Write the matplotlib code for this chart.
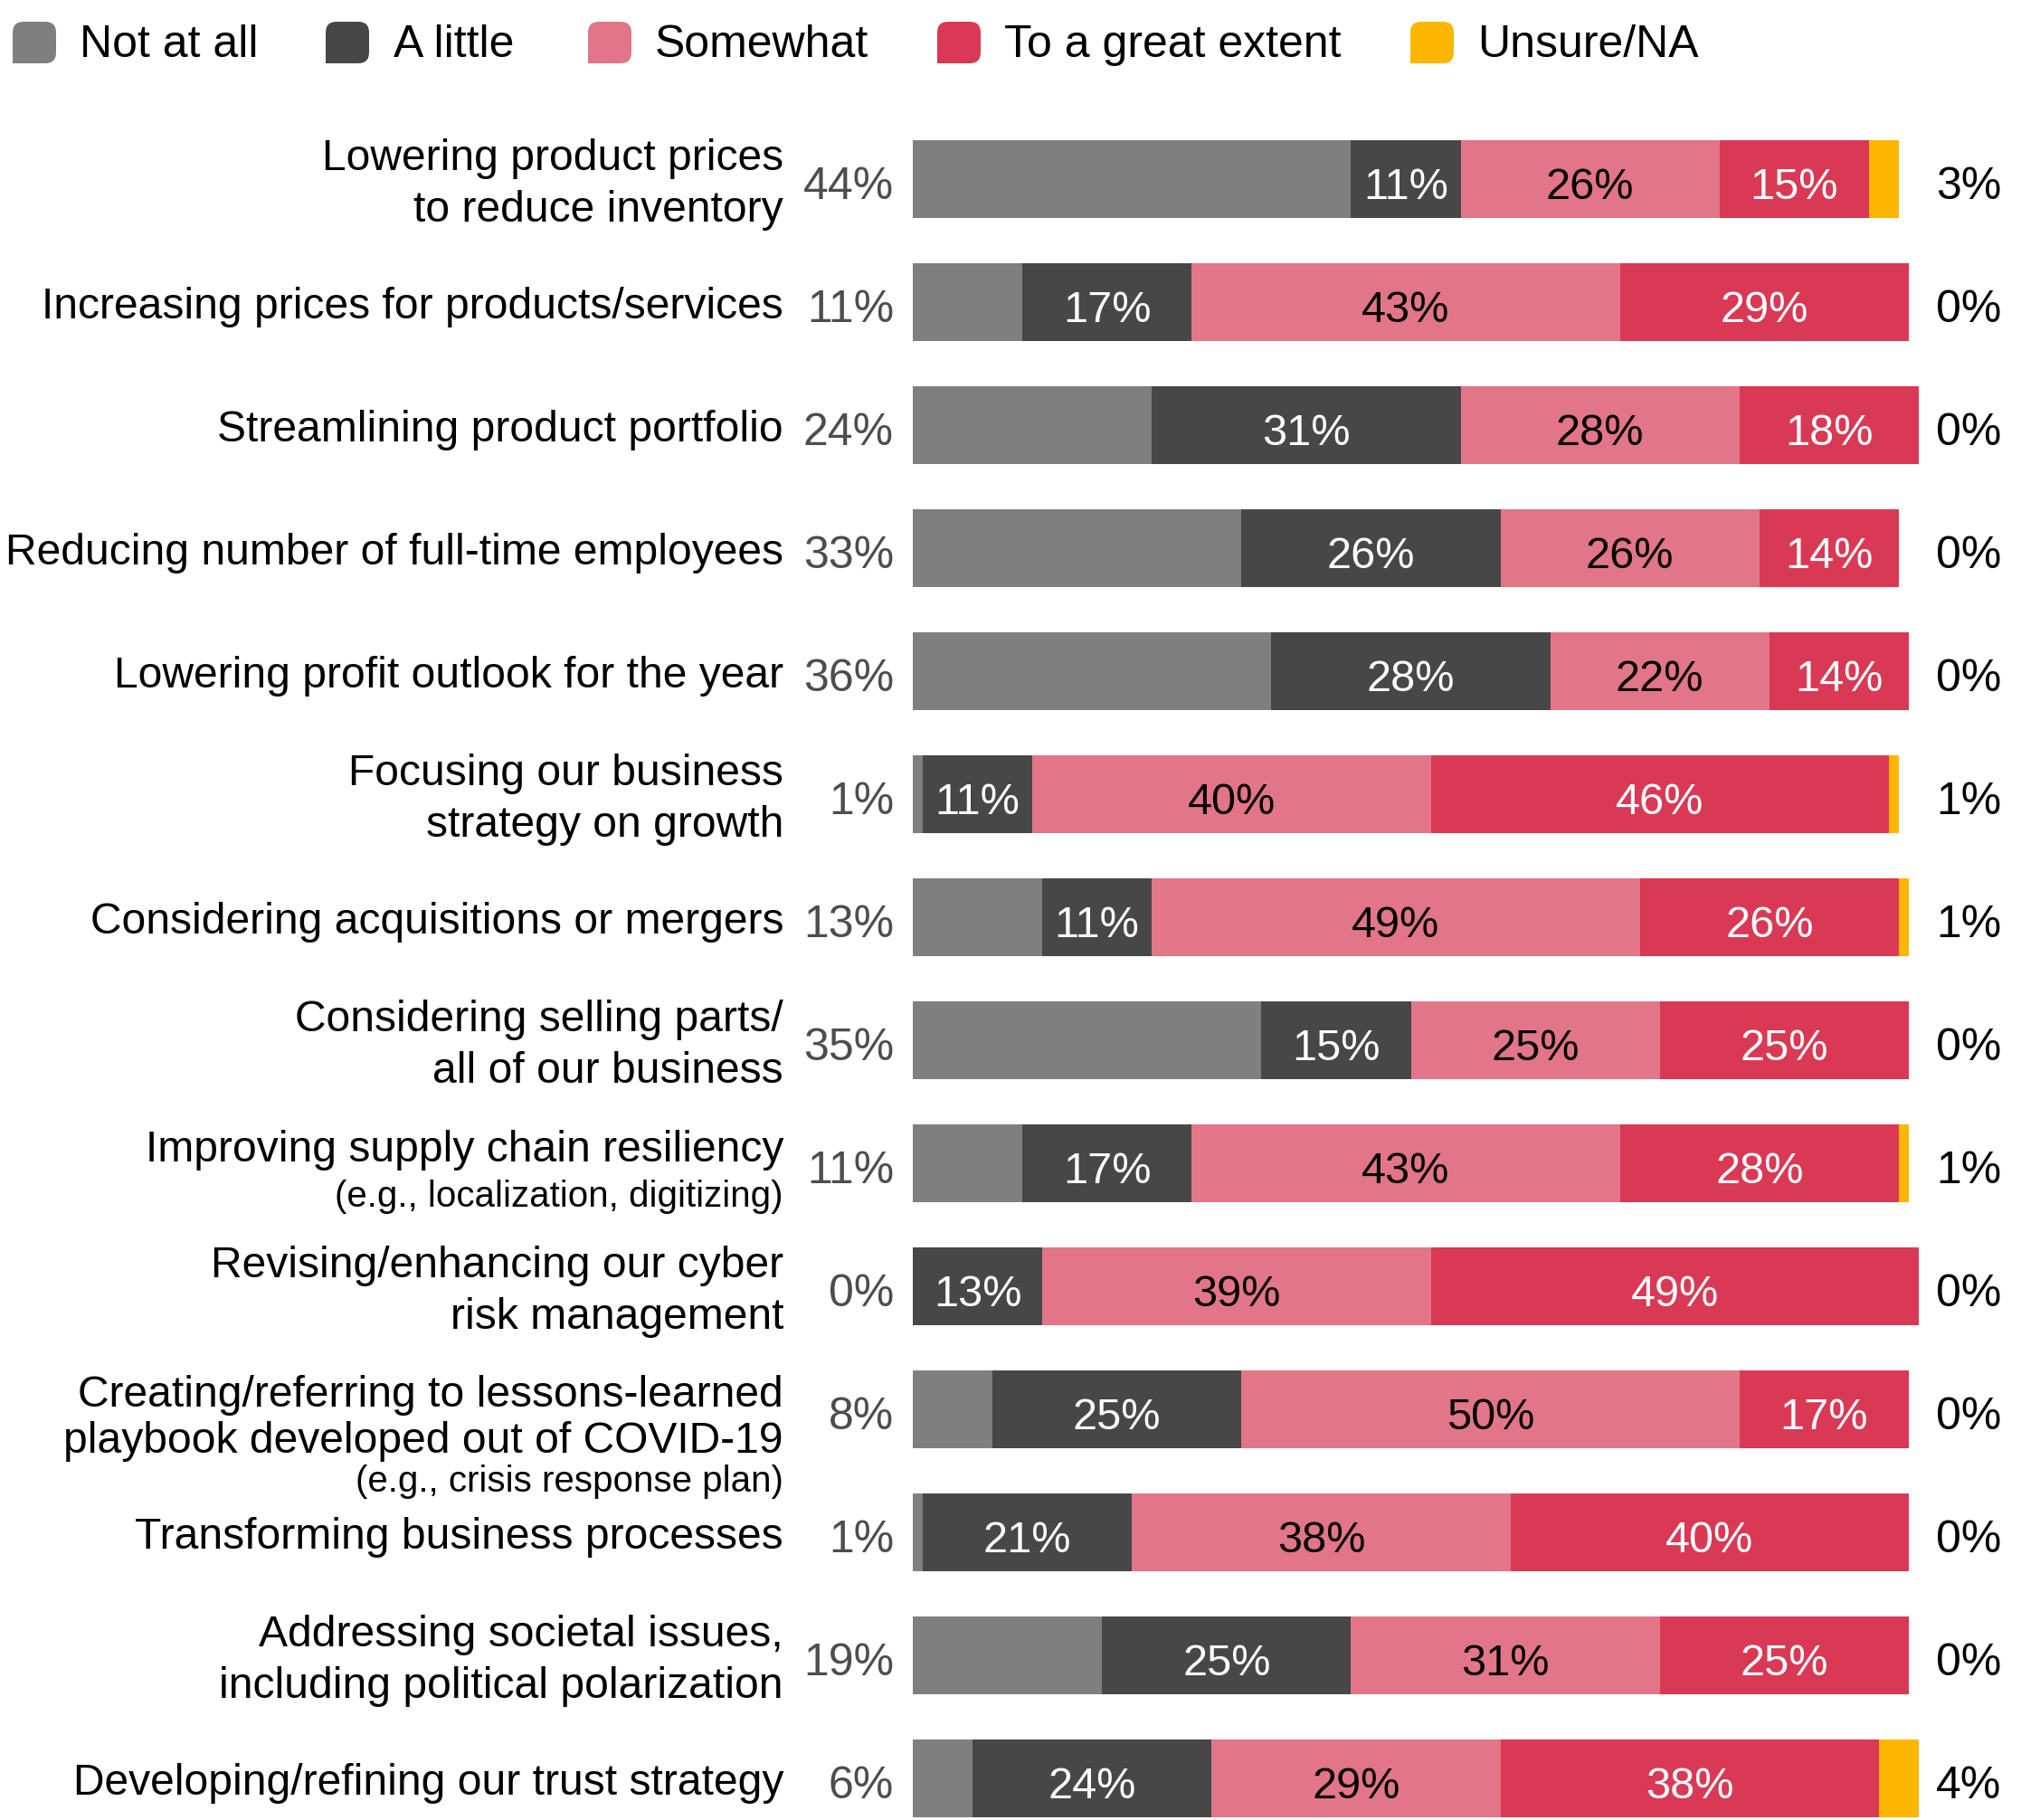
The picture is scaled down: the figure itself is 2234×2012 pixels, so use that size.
import matplotlib
matplotlib.use("Agg")
import matplotlib.pyplot as plt
from matplotlib.patches import PathPatch
from matplotlib.path import Path

plt.rcParams['font.family'] = ['Liberation Sans', 'DejaVu Sans']

categories = [
    "Lowering product prices\nto reduce inventory",
    "Increasing prices for products/services",
    "Streamlining product portfolio",
    "Reducing number of full-time employees",
    "Lowering profit outlook for the year",
    "Focusing our business\nstrategy on growth",
    "Considering acquisitions or mergers",
    "Considering selling parts/\nall of our business",
    "Improving supply chain resiliency",
    "Revising/enhancing our cyber\nrisk management",
    "Creating/referring to lessons-learned\nplaybook developed out of COVID-19",
    "Transforming business processes",
    "Addressing societal issues,\nincluding political polarization",
    "Developing/refining our trust strategy",
]
sublabels = {8: "(e.g., localization, digitizing)", 10: "(e.g., crisis response plan)"}

series_names = ["Not at all", "A little", "Somewhat", "To a great extent", "Unsure/NA"]
not_at_all = [44, 11, 24, 33, 36, 1, 13, 35, 11, 0, 8, 1, 19, 6]
a_little   = [11, 17, 31, 26, 28, 11, 11, 15, 17, 13, 25, 21, 25, 24]
somewhat   = [26, 43, 28, 26, 22, 40, 49, 25, 43, 39, 50, 38, 31, 29]
great      = [15, 29, 18, 14, 14, 46, 26, 25, 28, 49, 17, 40, 25, 38]
unsure     = [3, 0, 0, 0, 0, 1, 1, 0, 1, 0, 0, 0, 0, 4]

colors = ["#7f7f7f", "#474747", "#e27588", "#d93954", "#ffb600"]
inner_text_colors = [None, "white", "black", "white", None]

W, H = 2234, 2012
fig = plt.figure(figsize=(W / 100, H / 100), dpi=100)
ax = fig.add_axes([0, 0, 1, 1])
ax.axis('off')

x0_px = 1009.0
ppu = 11.01
row0_px = 198.0
row_step = 136.0
ax.set_xlim(-x0_px / ppu, (W - x0_px) / ppu)
ax.set_ylim((H - row0_px) / row_step, -row0_px / row_step)

FS = 34.6
dy_lab = 6 / row_step
dy_num = 9 / row_step
n = len(categories)
ys = list(range(n))
series = [not_at_all, a_little, somewhat, great, unsure]
left = [0.0] * n
bar_h = 0.63
for si, vals in enumerate(series):
    ax.barh(ys, vals, left=left, height=bar_h, color=colors[si], linewidth=0)
    if inner_text_colors[si] is not None:
        for i, v in enumerate(vals):
            ax.text(left[i] + v / 2, i + dy_num, f"{v}%", ha='center', va='center',
                    fontsize=35, color=inner_text_colors[si])
    left = [l + v for l, v in zip(left, vals)]

label_x = (866 - x0_px) / ppu
lpct_x = (988 - x0_px) / ppu
rpct_x = (2140 - x0_px) / ppu
for i, cat in enumerate(categories):
    if i == 8:
        ax.text(label_x, i - 20 / row_step + dy_lab, cat, ha='right', va='center', fontsize=FS)
        ax.text(label_x, i + 31 / row_step + dy_lab, sublabels[i], ha='right', va='center', fontsize=29)
    elif i == 10:
        ax.text(label_x, i + dy_lab + 4 / row_step, cat, ha='right', va='center', fontsize=FS, linespacing=1.15)
        ax.text(label_x, i + 71 / row_step + dy_lab + 3 / row_step, sublabels[i], ha='right', va='center', fontsize=29)
    else:
        ax.text(label_x, i + dy_lab, cat, ha='right', va='center', fontsize=FS, linespacing=1.36)
    ax.text(lpct_x, i + dy_num, f"{not_at_all[i]}%", ha='right', va='center', fontsize=36, color="#4d4d4d")
    ax.text(rpct_x, i + dy_num, f"{unsure[i]}%", ha='left', va='center', fontsize=36, color="black")


def legend_shape(x, y, w, h, r):
    # rounded rectangle with a square bottom-left corner (inches)
    verts = [
        (x, y), (x + w - r, y), (x + w, y), (x + w, y + r),
        (x + w, y + h - r), (x + w, y + h), (x + w - r, y + h),
        (x + r, y + h), (x, y + h), (x, y + h - r),
        (x, y), (x, y),
    ]
    codes = [Path.MOVETO, Path.LINETO, Path.CURVE3, Path.CURVE3,
             Path.LINETO, Path.CURVE3, Path.CURVE3,
             Path.LINETO, Path.CURVE3, Path.CURVE3,
             Path.LINETO, Path.CLOSEPOLY]
    return Path(verts, codes)


patch_x = [14, 360, 650, 1036, 1559]
text_x = [88, 435, 724, 1110, 1633]
for name, c, px, tx in zip(series_names, colors, patch_x, text_x):
    path = legend_shape(px / 100, (H - 70) / 100, 0.48, 0.46, 0.12)
    fig.patches.append(PathPatch(path, transform=fig.dpi_scale_trans,
                                 facecolor=c, edgecolor='none'))
    fig.text(tx / W, 1 - 50 / H, name, ha='left', va='center', fontsize=36)

fig.savefig("out.png", dpi=100)
